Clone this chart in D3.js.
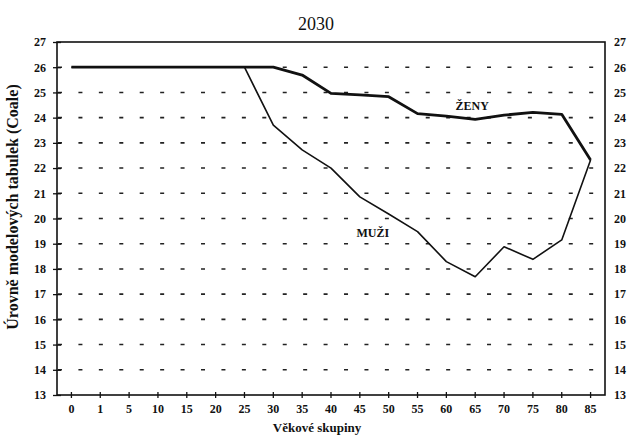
<!DOCTYPE html>
<html>
<head>
<meta charset="utf-8">
<script src="https://cdn.jsdelivr.net/npm/d3@7/dist/d3.min.js"></script>
<style>
  html, body { margin: 0; padding: 0; background: #fff; }
  svg { display: block; }
  text { font-family: "Liberation Serif", "DejaVu Serif", serif; fill: #111; }
</style>
</head>
<body>
<svg id="chart" width="631" height="436"></svg>
<script>
const categories = ["0","1","5","10","15","20","25","30","35","40","45","50","55","60","65","70","75","80","85"];
const zeny = [26.0,26.0,26.0,26.0,26.0,26.0,26.0,26.0,25.69,24.96,24.9,24.83,24.16,24.06,23.93,24.1,24.21,24.13,22.32];
const muzi = [26.0,26.0,26.0,26.0,26.0,26.0,26.0,23.7,22.72,22.0,20.86,20.18,19.48,18.29,17.69,18.88,18.38,19.15,22.32];
const yTicks = [13,14,15,16,17,18,19,20,21,22,23,24,25,26,27];
const title = "2030";
const xTitle = "Věkové skupiny";
const yTitle = "Úrovně modelových tabulek (Coale)";

const svg = d3.select("#chart");
const L = 57, R = 605, T = 42, B = 395;

const x = d3.scaleBand().domain(categories).range([L, R]).padding(0);
const y = d3.scaleLinear().domain([13, 27]).range([B, T]);
const cx = c => x(c) + x.bandwidth() / 2;

// gridlines
svg.append("g").selectAll("line")
  .data(yTicks.filter(v => v > 13 && v < 27))
  .join("line")
  .attr("x1", L + 1).attr("x2", R)
  .attr("y1", d => y(d)).attr("y2", d => y(d))
  .attr("stroke", "#222").attr("stroke-width", 1.6)
  .attr("stroke-dasharray", "4,16.43");

// frame
svg.append("rect")
  .attr("x", L).attr("y", T).attr("width", R - L).attr("height", B - T)
  .attr("fill", "none").attr("stroke", "#111").attr("stroke-width", 1.6);

// left axis
const yAxisL = d3.axisLeft(y).tickValues(yTicks).tickSizeInner(4).tickSizeOuter(0).tickPadding(7);
const gL = svg.append("g").attr("transform", `translate(${L},0)`).call(yAxisL);
gL.select(".domain").remove();
gL.selectAll(".tick line").attr("x2", 4).attr("x1", -4).attr("stroke", "#111").attr("stroke-width", 1.3);
gL.selectAll(".tick text").attr("font-size", 12).attr("font-weight", "bold")
  .attr("font-family", "Liberation Serif, serif");

// right axis
const yAxisR = d3.axisRight(y).tickValues(yTicks).tickSize(0).tickPadding(9);
const gR = svg.append("g").attr("transform", `translate(${R},0)`).call(yAxisR);
gR.select(".domain").remove();
gR.selectAll(".tick text").attr("font-size", 12).attr("font-weight", "bold")
  .attr("font-family", "Liberation Serif, serif");

// bottom axis
const xAxis = d3.axisBottom(x).tickSizeInner(3).tickSizeOuter(0).tickPadding(6);
const gB = svg.append("g").attr("transform", `translate(0,${B})`).call(xAxis);
gB.select(".domain").remove();
gB.selectAll(".tick line").attr("y1", -3).attr("y2", 3).attr("stroke", "#111").attr("stroke-width", 1.3);
gB.selectAll(".tick text").attr("font-size", 12).attr("font-weight", "bold")
  .attr("font-family", "Liberation Serif, serif");

// lines
const line = d3.line().x((d, i) => cx(categories[i])).y(d => y(d));
svg.append("path").datum(muzi).attr("d", line)
  .attr("fill", "none").attr("stroke", "#111").attr("stroke-width", 1.6).attr("stroke-linejoin", "round");
svg.append("path").datum(zeny).attr("d", line)
  .attr("fill", "none").attr("stroke", "#111").attr("stroke-width", 2.8).attr("stroke-linejoin", "round");

// series labels
svg.append("text").attr("x", cx("65") - 3).attr("y", y(24.3))
  .attr("text-anchor", "middle").attr("font-size", 12).attr("font-weight", "bold").text("ŽENY");
svg.append("text").attr("x", cx("45") + 13).attr("y", y(19.25))
  .attr("text-anchor", "middle").attr("font-size", 12).attr("font-weight", "bold").text("MUŽI");

// titles
svg.append("text").attr("x", 316).attr("y", 30)
  .attr("text-anchor", "middle").attr("font-size", 18).attr("font-weight", "normal").text(title);
svg.append("text").attr("x", 317).attr("y", 432)
  .attr("text-anchor", "middle").attr("font-size", 13).attr("font-weight", "bold").text(xTitle);
svg.append("text").attr("transform", `translate(18,207) rotate(-90)`)
  .attr("text-anchor", "middle").attr("font-size", 16).attr("font-weight", "bold").text(yTitle);
</script>
</body>
</html>
